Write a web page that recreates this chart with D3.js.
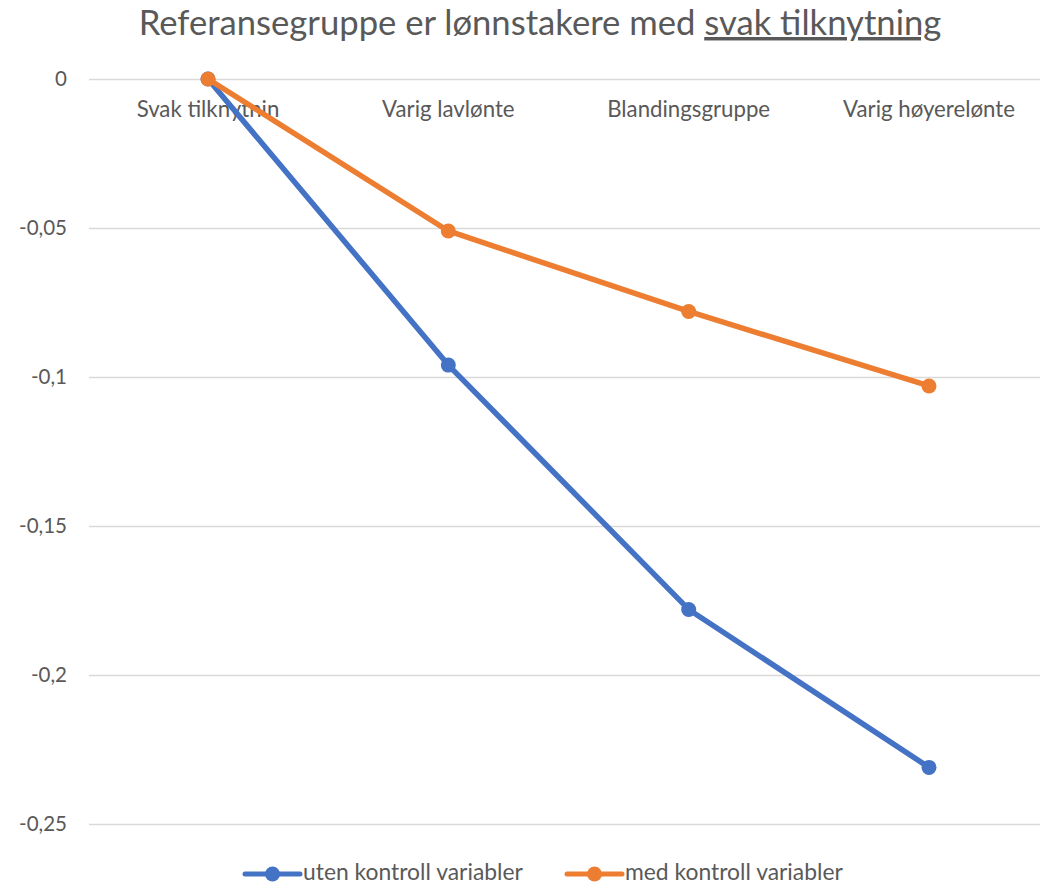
<!DOCTYPE html>
<html><head><meta charset="utf-8">
<script src="https://cdn.jsdelivr.net/npm/d3@7"></script>
<style>body{margin:0;background:#fff}svg{display:block}text{font-family:Lato,"Open Sans",sans-serif;fill:#595959}</style>
</head><body><svg id="c" width="1043" height="886"></svg>
<script>
const categories = ["Svak tilknytnin","Varig lavlønte","Blandingsgruppe","Varig høyerelønte"];
const utenKontroll = [0,-0.096,-0.178,-0.231];
const medKontroll = [0,-0.051,-0.078,-0.103];
const yTicks = [0,-0.05,-0.1,-0.15,-0.2,-0.25];
const seriesNames = ["uten kontroll variabler","med kontroll variabler"];
const colors = ["#4472C4","#ED7D31"];

const svg = d3.select("#c");
function fitSize(str, target){
  const t = svg.append("text").attr("font-size",20).text(str);
  const w = t.node().getComputedTextLength(); t.remove();
  return 20*target/w;
}
const catSize = fitSize("Blandingsgruppe",163);
const tickSize = fitSize("-0,25",48);
const legSize = fitSize("uten kontroll variabler",220);

const x = d3.scalePoint().domain(categories).range([208,929]);
const y = d3.scaleLinear().domain([-0.25,0]).range([824,79]);
const fmt = v => v===0 ? "0" : d3.format(".2~f")(v).replace(".",",").replace("−","-");

// title
const title = svg.append("text").attr("x",540).attr("y",35).attr("text-anchor","middle").attr("font-size",31);
title.append("tspan").text("Referansegruppe er lønnstakere med ");
title.append("tspan").attr("text-decoration","underline").text("svak tilknytning");
const tw = title.node().getComputedTextLength();
title.attr("font-size",31*803/tw);

// grid
const gAxis = svg.append("g").attr("transform","translate(89,0)")
  .call(d3.axisLeft(y).tickValues(yTicks).tickSize(-951).tickFormat(fmt).tickPadding(22));
gAxis.select(".domain").remove();
gAxis.selectAll(".tick line").attr("stroke","#D9D9D9").attr("stroke-width",1.3);
gAxis.selectAll(".tick text").attr("font-size",tickSize).attr("fill","#595959").attr("font-family","Lato,'Open Sans',sans-serif");

// category labels
svg.append("g").selectAll("text").data(categories).join("text")
  .attr("x",d=>x(d)).attr("y",117).attr("text-anchor","middle").attr("font-size",catSize).text(d=>d);

// series
const line = d3.line().x((d,i)=>x(categories[i])).y(d=>y(d));
[utenKontroll, medKontroll].forEach((s,k)=>{
  const g = svg.append("g");
  g.append("path").datum(s).attr("d",line).attr("fill","none").attr("stroke",colors[k]).attr("stroke-width",5.5).attr("stroke-linejoin","round").attr("stroke-linecap","round");
  g.selectAll("circle").data(s).join("circle").attr("cx",(d,i)=>x(categories[i])).attr("cy",d=>y(d)).attr("r",7.5).attr("fill",colors[k]);
});

// legend
const legX = [245,567];
seriesNames.forEach((n,k)=>{
  const g = svg.append("g").attr("transform",`translate(${legX[k]},874)`);
  g.append("line").attr("x1",0).attr("x2",55).attr("stroke",colors[k]).attr("stroke-width",5).attr("stroke-linecap","round");
  g.append("circle").attr("cx",27.5).attr("r",7.5).attr("fill",colors[k]);
  g.append("text").attr("x",58).attr("y",6).attr("font-size",legSize).text(n);
});
</script></body></html>
